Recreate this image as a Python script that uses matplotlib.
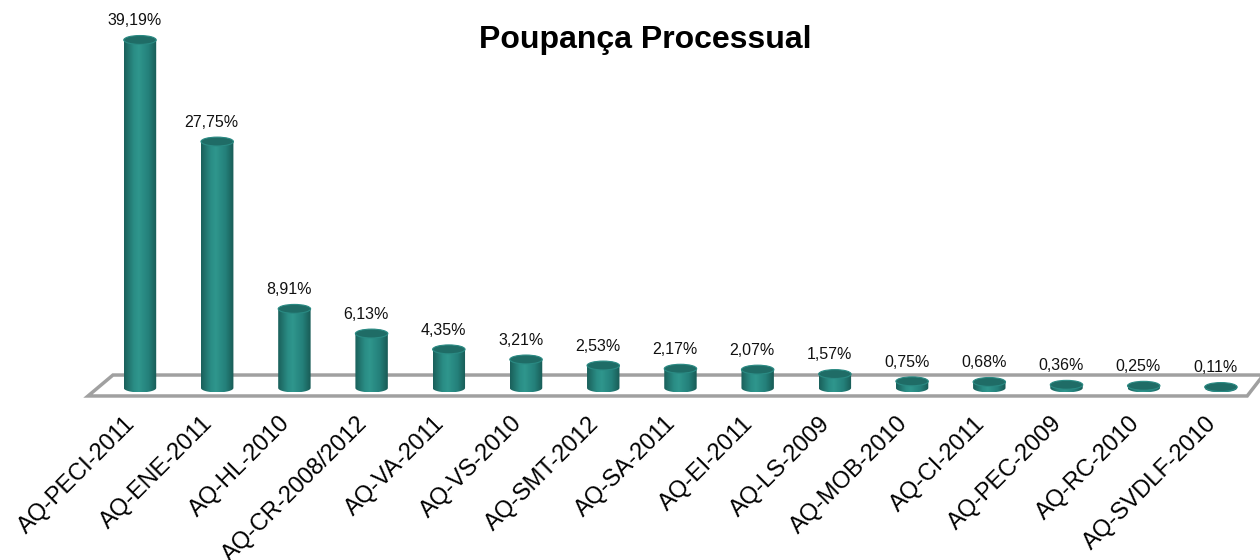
import matplotlib
matplotlib.use('Agg')
import numpy as np
import matplotlib.pyplot as plt
from matplotlib.patches import Ellipse, Polygon, PathPatch
from matplotlib.path import Path
from matplotlib.colors import LinearSegmentedColormap

plt.rcParams['font.family'] = ['Liberation Sans', 'DejaVu Sans']

categories = ['AQ-PECI-2011', 'AQ-ENE-2011', 'AQ-HL-2010', 'AQ-CR-2008/2012', 'AQ-VA-2011',
              'AQ-VS-2010', 'AQ-SMT-2012', 'AQ-SA-2011', 'AQ-EI-2011', 'AQ-LS-2009',
              'AQ-MOB-2010', 'AQ-CI-2011', 'AQ-PEC-2009', 'AQ-RC-2010', 'AQ-SVDLF-2010']
values = [39.19, 27.75, 8.91, 6.13, 4.35, 3.21, 2.53, 2.17, 2.07, 1.57, 0.75, 0.68, 0.36, 0.25, 0.11]
value_labels = [f"{v:.2f}".replace('.', ',') + '%' for v in values]
title = 'Poupança Processual'

fig = plt.figure(figsize=(12.6, 5.6), dpi=100)
ax = fig.add_axes([0, 0, 1, 1])
XL = (-1.813, 14.506)
YL = (-19.37, 43.69)
ax.set_xlim(*XL)
ax.set_ylim(*YL)
ax.axis('off')

# floor
floor = Polygon([(-0.35, 1.46), (-0.673, -0.9), (14.34, -0.9), (14.55, 1.46)],
                closed=True, facecolor='white', edgecolor='#a0a0a0', lw=2.5, zorder=1)
ax.add_patch(floor)

cmap = LinearSegmentedColormap.from_list('cyl', [
    (0.0, '#1a5f5a'), (0.3, '#2a8d85'), (0.45, '#2f968d'), (0.75, '#24807a'), (1.0, '#185a55')])
grad = np.linspace(0, 1, 256).reshape(1, -1)

w = 0.42
eh = 1.0
xs = np.arange(len(categories))
for x, v, lab, cat in zip(xs, values, value_labels, categories):
    t = np.linspace(np.pi, 2 * np.pi, 40)
    arc = np.column_stack([x + w / 2 * np.cos(t), eh / 2 * np.sin(t)])
    verts = np.vstack([[[x - w / 2, v]], arc, [[x + w / 2, v]], [[x - w / 2, v]]])
    codes = [Path.MOVETO] + [Path.LINETO] * (len(verts) - 2) + [Path.CLOSEPOLY]
    body = PathPatch(Path(verts, codes), facecolor='none', edgecolor='none', zorder=3)
    ax.add_patch(body)
    im = ax.imshow(grad, cmap=cmap, extent=[x - w / 2, x + w / 2, -eh / 2, v],
                   aspect='auto', zorder=3, interpolation='bilinear')
    im.set_clip_path(body)
    top = Ellipse((x, v), w, eh, facecolor='#1f6c66', edgecolor='#2a8a83', lw=0.8, zorder=4)
    ax.add_patch(top)
    ax.text(x - 0.07, v + 2.15, lab, ha='center', va='center', fontsize=11.5, color='#111111', zorder=5)
    ax.text(x - 0.2, -2.75, cat, rotation=45, rotation_mode='anchor', ha='right', va='top',
            fontsize=17, color='black', zorder=5)

ax.set_xlim(*XL)
ax.set_ylim(*YL)

fig.text(0.512, 0.929, title, fontsize=23, fontweight='bold', ha='center', va='center')

fig.savefig('out.png', dpi=100)
